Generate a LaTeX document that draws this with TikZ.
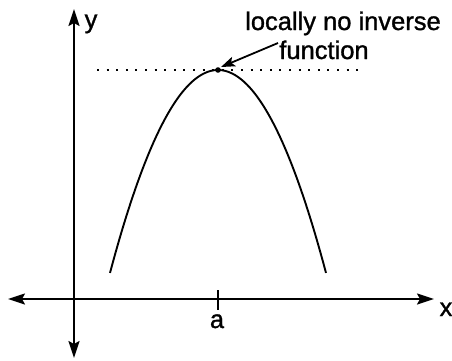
\documentclass[tikz,border=0pt]{standalone}
\usepackage{fontspec}
\setmainfont{Liberation Sans}
\newfontfamily\lblfont[FakeBold=1.2]{Liberation Sans}
\usetikzlibrary{arrows.meta}
\tikzset{
  axisline/.style={line width=2pt, {Stealth[length=17pt,width=11pt,inset=3pt]}-{Stealth[length=17pt,width=11pt,inset=3pt]}},
  curveline/.style={line width=1.9pt},
  lbl/.style={font=\lblfont\fontsize{25.5}{25.5}\selectfont, inner sep=0pt, anchor=base},
  dotline/.style={line width=2pt, dash pattern=on 2pt off 7.6pt},
  pointer/.style={line width=1.8pt, -{Stealth[length=14pt,width=10pt,inset=3pt]}}
}
\begin{document}
\begin{tikzpicture}[x=1pt,y=-1pt]
\useasboundingbox (0,0) rectangle (452,360);
\coordinate (xl) at (8,299);
\coordinate (xr) at (434,299);
\coordinate (yt) at (74,9);
\coordinate (yb) at (74,358);
\draw[axisline] (xl) -- (xr);
\draw[axisline] (yb) -- (yt);
% tick
\coordinate (ta) at (218,290);
\coordinate (tb) at (218,310);
\draw[line width=2pt] (ta) -- (tb);
% dotted tangent
\coordinate (dl) at (97,70);
\coordinate (dr) at (360,70);
\draw[dotline] (dl) -- (dr);
% parabola
\draw[curveline] plot[domain=-108:108, samples=80] ({218+\x},{70+0.0174*\x*\x});
\fill (218,70) circle (2.8pt);
\coordinate (vx) at (221,67);
% labels
\node[lbl] (ylab) at (91,28) {y};
\node[lbl] (alab) at (217,328) {a};
\node[lbl] (xlab) at (446,316) {x};
\node[lbl] (t1) at (343,30) {locally no inverse};
\node[lbl] (t2) at (324,59) {function};
\coordinate (as) at (278,43);
\draw[pointer] (as) -- (vx);
\end{tikzpicture}
\end{document}
